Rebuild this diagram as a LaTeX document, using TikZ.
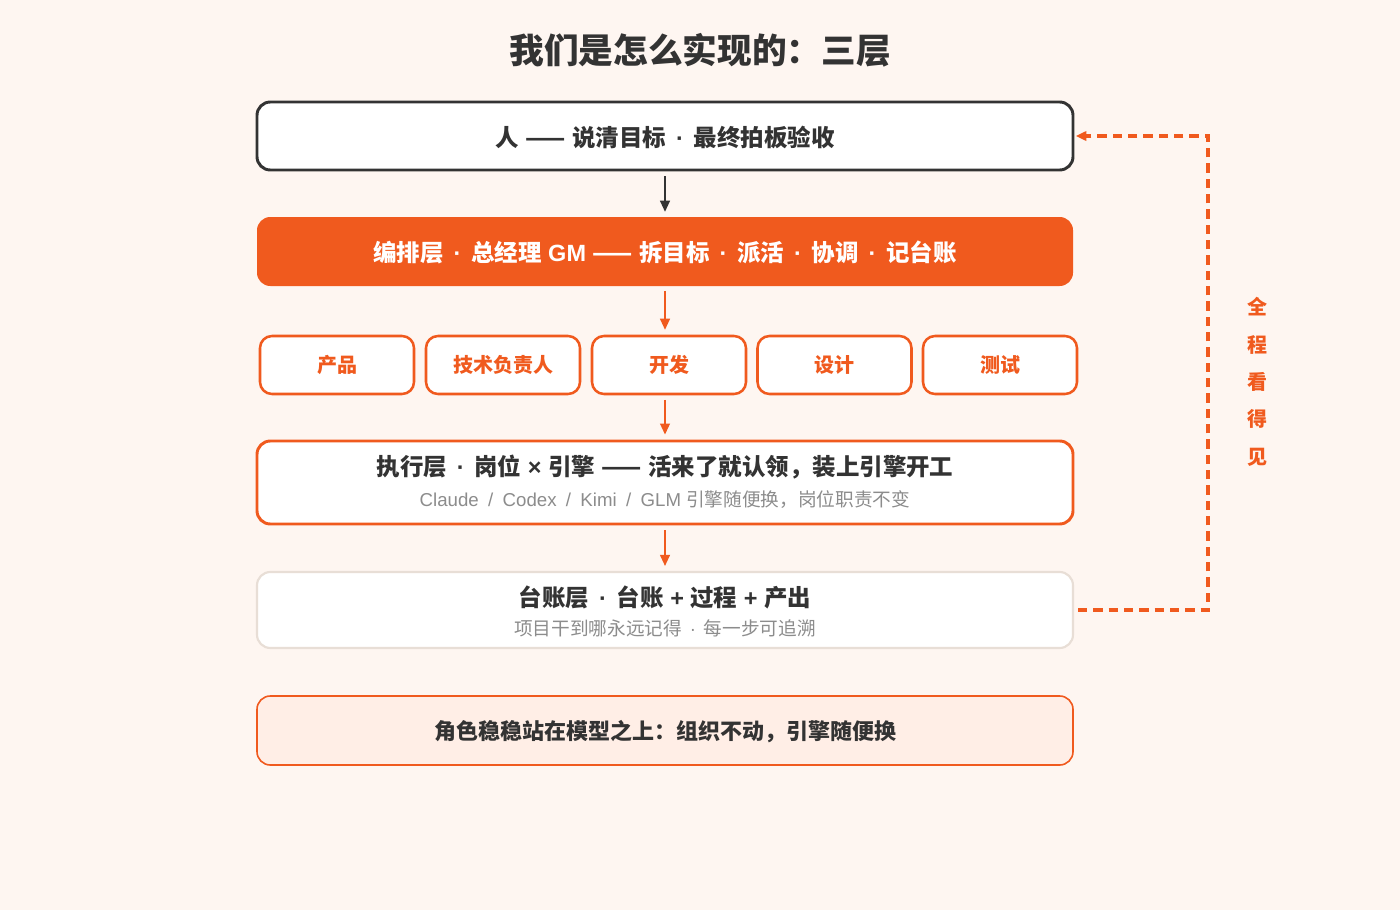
\documentclass[tikz,border=0pt]{standalone}
\usepackage{fontspec}
\setmainfont{Noto Sans CJK SC}
\newfontfamily\lat{Liberation Sans}
\usetikzlibrary{arrows.meta}
\definecolor{bg}{HTML}{FEF6F1}
\definecolor{org}{HTML}{F05A1E}
\definecolor{dk}{HTML}{333333}
\definecolor{gy}{HTML}{8C8C8C}
\definecolor{beige}{HTML}{E8DED6}
\definecolor{peach}{HTML}{FFEEE6}
\newcommand{\mdot}{{\lat\hspace{0.42em}·\hspace{0.42em}}}
\newcommand{\lt}[1]{{\lat #1}}
\newcommand{\myslash}{\hspace{0.5em}/\hspace{0.5em}}
\tikzset{
  wide/.style={rounded corners=10pt, minimum width=612pt, inner sep=0pt},
  small/.style={rounded corners=9pt, minimum width=115.5pt, minimum height=43.5pt, inner sep=0pt,
    draw=org, line width=1.9pt, fill=white, text=org, font=\fontsize{15}{18}\selectfont\bfseries},
  maintxt/.style={font=\fontsize{17.6}{21}\selectfont\bfseries, text=dk, inner sep=0pt},
  subtxt/.style={font=\fontsize{14}{17}\selectfont, text=gy, inner sep=0pt},
  flow/.style={line width=2.1pt, -{Triangle[length=8.5pt,width=7pt]}, shorten <=3.5pt, shorten >=3.5pt},
}
\begin{document}
\begin{tikzpicture}[x=0.75pt,y=-0.75pt]
\fill[bg] (0,0) rectangle (1400,910);
\useasboundingbox (0,0) rectangle (1400,910);

\node[font=\fontsize{26}{30}\selectfont\bfseries, text=dk] (title) at (700,50) {我们是怎么实现的：三层};

\node[wide, minimum height=51pt, draw=dk, line width=2.2pt, fill=white] (b1) at (665,136) {};
\node[maintxt] (t1) at (665,137) {人\lt{ }——\lt{ }说清目标\mdot 最终拍板验收};

\node[wide, minimum height=51.75pt, fill=org] (b2) at (665,251.5) {};
\node[maintxt, text=white] (t2) at (665,252) {编排层\mdot 总经理\lt{ GM }——\lt{ }拆目标\mdot 派活\mdot 协调\mdot 记台账};

\node[small] (r1) at (337,365) {产品};
\node[small] (r2) at (503,365) {技术负责人};
\node[small] (r3) at (669,365) {开发};
\node[small] (r4) at (834.5,365) {设计};
\node[small] (r5) at (1000,365) {测试};

\node[wide, minimum height=62.25pt, draw=org, line width=2.2pt, fill=white] (b4) at (665,482.5) {};
\node[maintxt] (t4) at (665,467) {执行层\mdot 岗位\lt{ × }引擎\lt{ }——\lt{ }活来了就认领，装上引擎开工};
\node[subtxt] (s4) at (665,500) {\lt{Claude\myslash Codex\myslash Kimi\myslash GLM }引擎随便换，岗位职责不变};

\node[wide, minimum height=57pt, draw=beige, line width=1.6pt, fill=white] (b5) at (665,610) {};
\node[maintxt] (t5) at (665,597) {台账层\mdot 台账\lt{ + }过程\lt{ + }产出};
\node[subtxt] (s5) at (665,628) {项目干到哪永远记得\mdot 每一步可追溯};

\node[wide, minimum height=51.75pt, draw=org, line width=1.2pt, fill=peach] (b6) at (665,730.5) {};
\node[maintxt, font=\fontsize{16.5}{20}\selectfont\bfseries] (t6) at (665,732) {角色稳稳站在模型之上：组织不动，引擎随便换};

\draw[flow, dk] (b1.south) -- (b2.north);
\draw[flow, org] (b2.south) -- (b2.south |- r3.north);
\draw[flow, org] (b2.south |- r3.south) -- (b4.north);
\draw[flow, org] (b4.south) -- (b5.north);

\coordinate (d1) at (1208,610);
\coordinate (d2) at (1208,136);
\draw[org, line width=2.3pt, dash pattern=on 7pt off 4.5pt, -{Triangle[length=8pt,width=7pt]}, shorten <=3pt, shorten >=1pt]
  (b5.east) -- (d1) -- (d2) -- (b1.east);

\node[text=org, font=\fontsize{15}{28}\selectfont\bfseries, align=center, inner sep=0pt] (side) at (1257,382) {全\\程\\看\\得\\见};
\end{tikzpicture}
\end{document}
